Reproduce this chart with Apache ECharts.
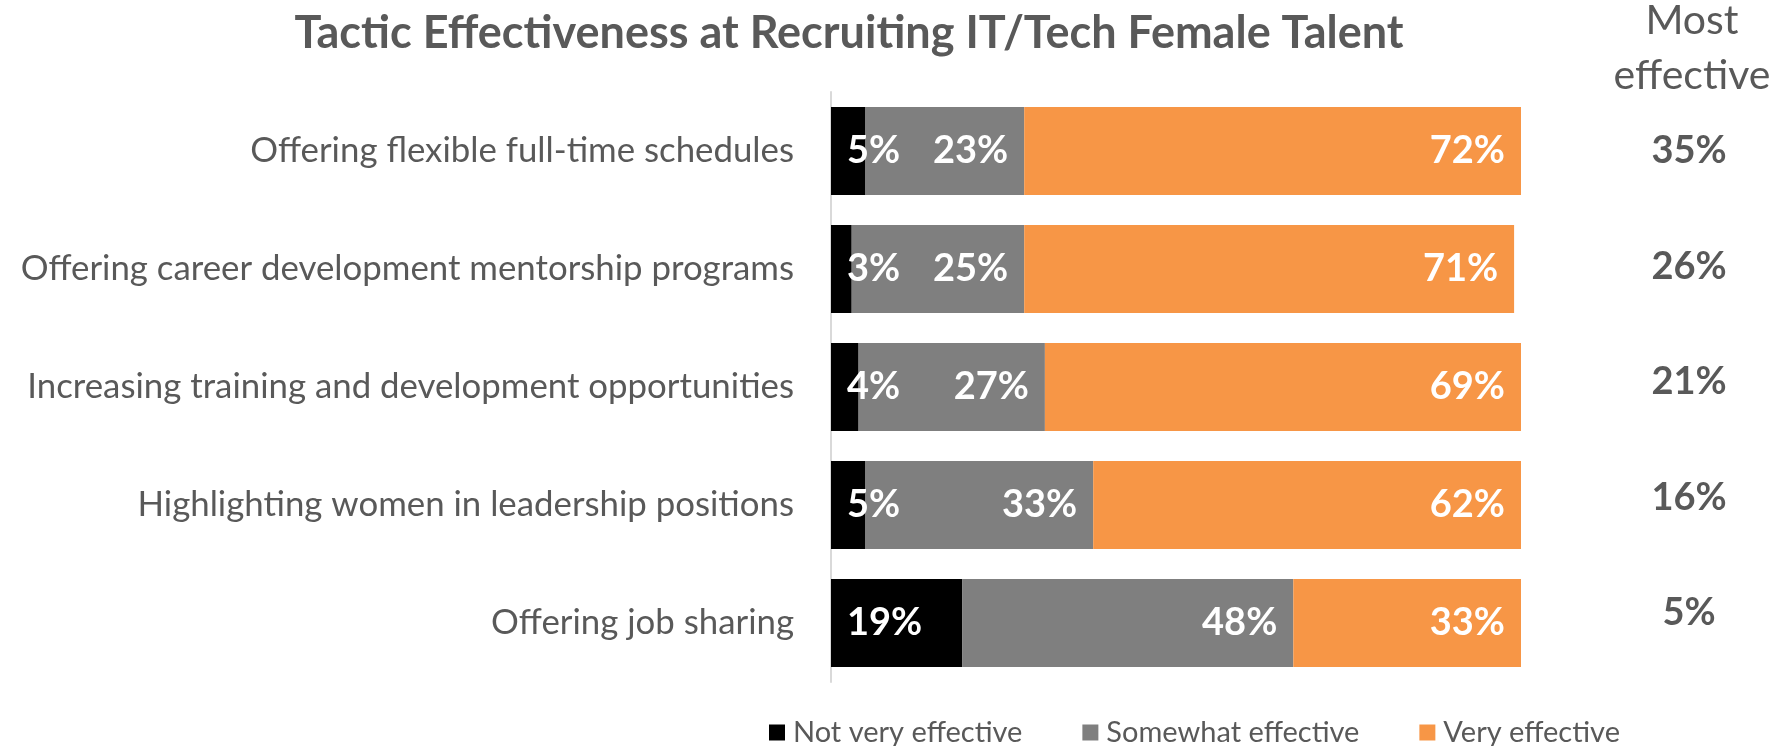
<!DOCTYPE html>
<html>
<head>
<meta charset="utf-8">
<script src="https://cdn.jsdelivr.net/npm/echarts@6/dist/echarts.min.js"></script>
<style>html,body{margin:0;padding:0;background:#fff}#c{width:1778px;height:746px}</style>
</head>
<body>
<div id="c"></div>
<script>
const categories = [
  "Offering flexible full-time schedules",
  "Offering career development mentorship programs",
  "Increasing training and development opportunities",
  "Highlighting women in leadership positions",
  "Offering job sharing"
];
const seriesNames = ["Not very effective", "Somewhat effective", "Very effective"];
const notVery = [5, 3, 4, 5, 19];
const somewhat = [23, 25, 27, 33, 48];
const very = [72, 71, 69, 62, 33];
const mostEffective = ["35%", "26%", "21%", "16%", "5%"];

const FONT = "Lato, 'Open Sans', sans-serif";
const chart = echarts.init(document.getElementById('c'), null, {renderer: 'canvas'});
const lbl = (pos) => ({show: true, position: pos, distance: 16, color: '#fff', fontWeight: 'bold', fontSize: 38, fontFamily: FONT, formatter: '{c}%'});
chart.setOption({
  animation: false,
  title: [
    {text: "Tactic Effectiveness at Recruiting IT/Tech Female Talent", left: 849, top: 11, textAlign: 'center', padding: 0,
     textStyle: {fontFamily: FONT, fontSize: 45, fontWeight: 'bold', color: '#595959'}},
    {text: "Most\neffective", left: 1692, top: -7, textAlign: 'center', padding: 0,
     textStyle: {fontFamily: FONT, fontSize: 41, fontWeight: 'normal', color: '#595959', lineHeight: 55}}
  ],
  legend: {
    left: 769, top: 718, padding: 0, itemWidth: 16, itemHeight: 16, itemGap: 60,
    icon: 'rect',
    textStyle: {fontFamily: FONT, fontSize: 29, color: '#595959', padding: [0, 0, 0, 3]},
    data: seriesNames
  },
  grid: [
    {left: 831, right: 257, top: 92, bottom: 64, containLabel: false},
    {left: 831, right: 257, top: 93.5, bottom: 75.5, containLabel: false}
  ],
  xAxis: [
    {type: 'value', min: 0, max: 100, show: false, gridIndex: 0},
    {type: 'value', min: 0, max: 100, show: false, gridIndex: 1}
  ],
  yAxis: [
    {type: 'category', data: categories, inverse: true, gridIndex: 0,
     axisLine: {lineStyle: {color: '#d9d9d9', width: 2}}, axisTick: {show: false},
     axisLabel: {color: '#595959', fontSize: 34.8, fontFamily: FONT, margin: 37}},
    {type: 'category', data: mostEffective, inverse: true, position: 'right', gridIndex: 1,
     axisLine: {show: false}, axisTick: {show: false},
     axisLabel: {color: '#595959', fontSize: 38, fontWeight: 'bold', fontFamily: FONT, margin: 168, align: 'center'}}
  ],
  series: [
    {name: seriesNames[0], type: 'bar', stack: 'total', data: notVery, barWidth: 88, itemStyle: {color: '#000000'}, label: lbl('insideLeft')},
    {name: seriesNames[1], type: 'bar', stack: 'total', data: somewhat, barWidth: 88, itemStyle: {color: '#7f7f7f'}, label: lbl('insideRight')},
    {name: seriesNames[2], type: 'bar', stack: 'total', data: very, barWidth: 88, itemStyle: {color: '#f79646'}, label: lbl('insideRight')}
  ]
});
</script>
</body>
</html>
